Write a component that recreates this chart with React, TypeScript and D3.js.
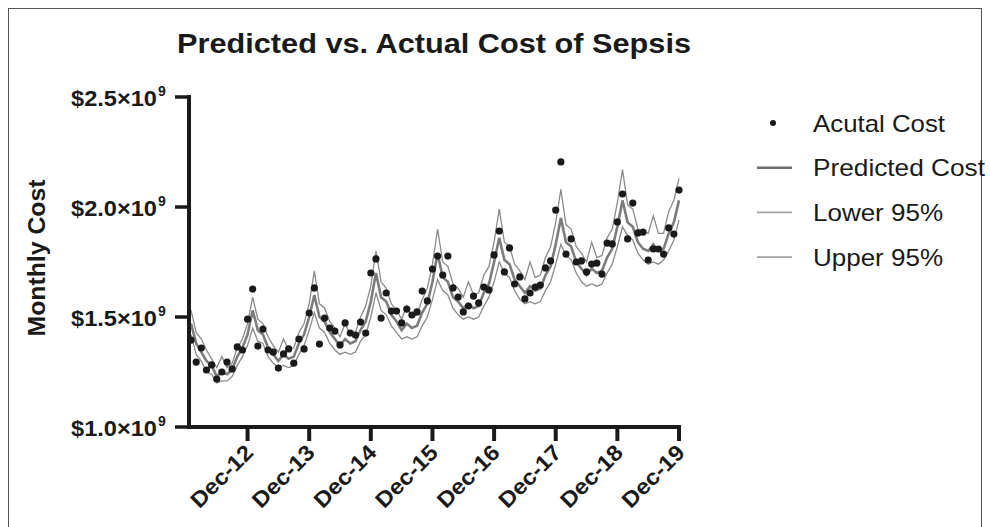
import React from "react";
import * as d3 from "d3";

// monthly values, Jan 2012 .. Dec 2019 (in $ billions)
const actualCost = [
  1.395, 1.295, 1.359, 1.259, 1.282, 1.218, 1.25, 1.295, 1.264, 1.364, 1.35, 1.49,
  1.627, 1.368, 1.445, 1.35, 1.34, 1.268, 1.332, 1.355, 1.29, 1.4, 1.355, 1.518,
  1.632, 1.377, 1.495, 1.45, 1.436, 1.373, 1.473, 1.427, 1.418, 1.477, 1.427, 1.7,
  1.764, 1.495, 1.609, 1.527, 1.527, 1.473, 1.536, 1.509, 1.523, 1.618, 1.573, 1.718,
  1.777, 1.691, 1.777, 1.632, 1.591, 1.523, 1.55, 1.595, 1.564, 1.636, 1.623, 1.782,
  1.891, 1.705, 1.814, 1.65, 1.682, 1.582, 1.609, 1.636, 1.645, 1.723, 1.755, 1.986,
  2.205, 1.786, 1.855, 1.75, 1.755, 1.705, 1.741, 1.745, 1.695, 1.836, 1.832, 1.932,
  2.059, 1.855, 2.018, 1.882, 1.886, 1.759, 1.809, 1.809, 1.786, 1.905, 1.877, 2.077,
];

const predictedCost = [
  1.47, 1.38, 1.34, 1.3, 1.28, 1.23, 1.25, 1.24, 1.26, 1.32, 1.36, 1.42,
  1.53, 1.44, 1.42, 1.36, 1.33, 1.3, 1.33, 1.31, 1.32, 1.38, 1.42, 1.5,
  1.6, 1.5, 1.48, 1.43, 1.4, 1.37, 1.4, 1.38, 1.39, 1.44, 1.48, 1.57,
  1.7, 1.59, 1.57, 1.51, 1.48, 1.44, 1.47, 1.45, 1.46, 1.52, 1.56, 1.66,
  1.79, 1.68, 1.66, 1.59, 1.57, 1.54, 1.56, 1.54, 1.55, 1.61, 1.65, 1.75,
  1.86, 1.76, 1.74, 1.67, 1.64, 1.61, 1.64, 1.62, 1.63, 1.69, 1.73, 1.83,
  1.95, 1.84, 1.82, 1.75, 1.72, 1.69, 1.72, 1.7, 1.71, 1.77, 1.81, 1.91,
  2.03, 1.93, 1.91, 1.84, 1.81, 1.8, 1.83, 1.8, 1.81, 1.88, 1.93, 2.03,
];

const lower95 = [
  1.42, 1.33, 1.3, 1.25, 1.24, 1.2, 1.21, 1.21, 1.23, 1.28, 1.32, 1.37,
  1.45, 1.39, 1.38, 1.32, 1.29, 1.27, 1.28, 1.27, 1.28, 1.33, 1.37, 1.44,
  1.52, 1.45, 1.43, 1.38, 1.35, 1.33, 1.34, 1.33, 1.34, 1.39, 1.42, 1.5,
  1.61, 1.53, 1.51, 1.46, 1.43, 1.4, 1.41, 1.4, 1.41, 1.46, 1.5, 1.58,
  1.67, 1.62, 1.6, 1.54, 1.51, 1.49, 1.5, 1.49, 1.5, 1.55, 1.59, 1.66,
  1.75, 1.7, 1.68, 1.62, 1.58, 1.56, 1.57, 1.56, 1.57, 1.62, 1.66, 1.74,
  1.83, 1.78, 1.76, 1.7, 1.66, 1.64, 1.65, 1.64, 1.65, 1.7, 1.74, 1.82,
  1.91, 1.87, 1.85, 1.79, 1.76, 1.74, 1.75, 1.74, 1.76, 1.8, 1.85, 1.94,
];

const upper95 = [
  1.53, 1.43, 1.4, 1.35, 1.31, 1.27, 1.32, 1.27, 1.29, 1.36, 1.4, 1.47,
  1.59, 1.49, 1.47, 1.41, 1.37, 1.34, 1.4, 1.35, 1.36, 1.43, 1.47, 1.56,
  1.71, 1.56, 1.54, 1.48, 1.45, 1.41, 1.47, 1.42, 1.43, 1.5, 1.55, 1.64,
  1.8, 1.66, 1.63, 1.56, 1.53, 1.49, 1.55, 1.5, 1.51, 1.58, 1.63, 1.74,
  1.9, 1.75, 1.73, 1.65, 1.63, 1.59, 1.66, 1.6, 1.61, 1.69, 1.73, 1.84,
  1.99, 1.84, 1.82, 1.74, 1.71, 1.67, 1.75, 1.68, 1.69, 1.77, 1.82, 1.93,
  2.08, 1.92, 1.9, 1.82, 1.79, 1.75, 1.84, 1.77, 1.78, 1.86, 1.9, 2.02,
  2.17, 2.01, 1.99, 1.9, 1.89, 1.88, 1.96, 1.88, 1.88, 1.98, 2.03, 2.13,
];

const xTickLabels = ["Dec-12", "Dec-13", "Dec-14", "Dec-15", "Dec-16", "Dec-17", "Dec-18", "Dec-19"];
const xTickMonths = [11, 23, 35, 47, 59, 71, 83, 95];
const yTicks = [1.0, 1.5, 2.0, 2.5];
const legendLabels = ["Acutal Cost", "Predicted Cost", "Lower 95%", "Upper 95%"];

const font = "'Liberation Sans', Arial, Helvetica, sans-serif";

const App = () => {
  const x = d3.scaleLinear().domain([-0.4, 95]).range([189, 679]);
  const y = d3.scaleLinear().domain([1.0, 2.5]).range([427, 97]);

  const line = d3.line<number>()
    .x((d, i) => x(i))
    .y((d) => y(d));

  const axisColor = "#1a1a1a";

  return (
    <svg width={990} height={527} style={{ position: "absolute", left: 0, top: 0, background: "#fff" }}
         fontFamily={font}>
      <rect x={8.5} y={8.5} width={973} height={530} fill="none" stroke="#555" strokeWidth={1} />

      {/* title */}
      <text x={177} y={53} fontSize={28.5} fontWeight="bold" fill="#1a1a1a"
            textLength={514} lengthAdjust="spacingAndGlyphs">
        Predicted vs. Actual Cost of Sepsis
      </text>

      {/* y label */}
      <text transform={`translate(45,258) rotate(-90)`} textAnchor="middle" fontSize={24}
            fontWeight="bold" fill="#1a1a1a" textLength={157} lengthAdjust="spacingAndGlyphs">
        Monthly Cost
      </text>

      {/* series */}
      <path d={line(lower95) ?? ""} fill="none" stroke="#8a8a8a" strokeWidth={1.3} />
      <path d={line(upper95) ?? ""} fill="none" stroke="#8a8a8a" strokeWidth={1.3} />
      <path d={line(predictedCost) ?? ""} fill="none" stroke="#7c7c7c" strokeWidth={2.6} />
      {actualCost.map((d, i) => (
        <circle key={i} cx={x(i)} cy={y(d)} r={3.6} fill="#1a1a1a" />
      ))}

      {/* y axis */}
      <line x1={189} x2={189} y1={y(2.5) - 2} y2={y(1.0) + 2} stroke={axisColor} strokeWidth={4} />
      {yTicks.map((t) => (
        <g key={t}>
          <line x1={175} x2={189} y1={y(t)} y2={y(t)} stroke={axisColor} strokeWidth={3.5} />
          <text x={157} y={y(t) + 9} textAnchor="end" fontSize={22} fontWeight="bold" fill="#1a1a1a"
                textLength={86} lengthAdjust="spacingAndGlyphs">
            {"$" + t.toFixed(1) + "×10"}
          </text>
          <text x={158} y={y(t) - 1} fontSize={14} fontWeight="bold" fill="#1a1a1a">9</text>
        </g>
      ))}

      {/* x axis */}
      <line x1={187} x2={681} y1={y(1.0)} y2={y(1.0)} stroke={axisColor} strokeWidth={4} />
      {xTickMonths.map((m, i) => (
        <g key={m}>
          <line x1={x(m)} x2={x(m)} y1={y(1.0)} y2={y(1.0) + 14} stroke={axisColor} strokeWidth={4} />
          <text transform={`translate(${x(m) + 7},${y(1.0) + 27}) rotate(-45)`} textAnchor="end"
                fontSize={22} fontWeight="bold" fill="#1a1a1a" textLength={78} lengthAdjust="spacingAndGlyphs">
            {xTickLabels[i]}
          </text>
        </g>
      ))}

      {/* legend */}
      {legendLabels.map((lab, i) => {
        const cy = 123 + i * 44.7;
        return (
          <g key={lab}>
            {i === 0 ? (
              <circle cx={773} cy={cy} r={3} fill="#1a1a1a" />
            ) : (
              <line x1={757} x2={792} y1={cy} y2={cy}
                    stroke={i === 1 ? "#6f6f6f" : "#a5a5a5"} strokeWidth={i === 1 ? 2.6 : 1.8} />
            )}
            <text x={813} y={cy + 8.5} fontSize={24} fill="#1a1a1a"
                  textLength={[132, 172, 130, 130][i]} lengthAdjust="spacingAndGlyphs">
              {lab}
            </text>
          </g>
        );
      })}
    </svg>
  );
};

export default App;
